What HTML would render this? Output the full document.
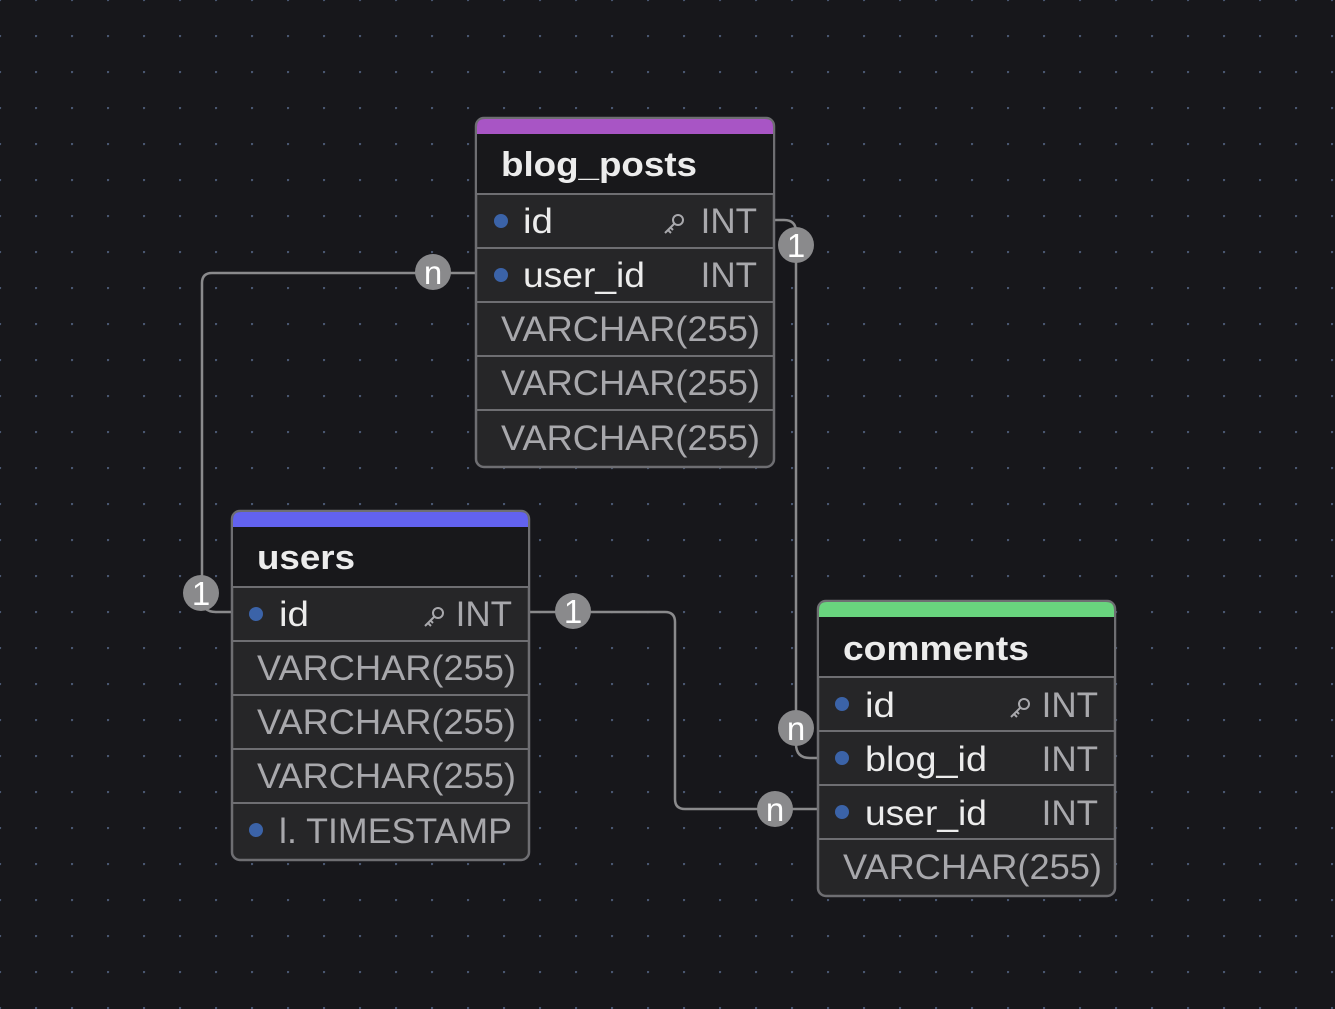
<!DOCTYPE html>
<html><head><meta charset="utf-8"><style>
html,body{margin:0;padding:0;background:#17171b;}
svg{display:block}
text{font-family:"Liberation Sans",sans-serif;}
</style></head><body>
<svg width="1335" height="1009" viewBox="0 0 1335 1009" xmlns="http://www.w3.org/2000/svg">
<defs>
<pattern id="dots" width="36" height="36" patternUnits="userSpaceOnUse" x="-1" y="-1">
<circle cx="1" cy="1" r="1.2" fill="#4a5873"/>
</pattern>
<g id="key" fill="none" stroke="#a8a8ac" stroke-width="2">
<circle cx="14" cy="-14" r="5"/>
<path d="M10.5 -10.5 L1 -1 M4 -4 L7 -1 M6.5 -6.5 L9 -4"/>
</g>
</defs>
<rect width="1335" height="1009" fill="#17171b"/>
<rect width="1335" height="1009" fill="url(#dots)"/>

<g fill="none" stroke="#8a8a8c" stroke-width="2.5">
<path d="M476 273 H212 Q202 273 202 283 V598 Q202 612 216 612 H232"/>
<path d="M774 220 H784 Q796 220 796 232 V744 Q796 758 810 758 H818"/>
<path d="M529 612 H665 Q675 612 675 622 V799 Q675 809 685 809 H818"/>
</g>

<!-- blog_posts -->
<g>
<rect x="476" y="118" width="298" height="349" rx="8" fill="#262628" stroke="#6e6e72" stroke-width="2.5"/>
<path d="M477 134 V127 Q477 119 485 119 H765 Q773 119 773 127 V134 Z" fill="#a855c5"/>
<rect x="477" y="134" width="296" height="60" fill="#18181b"/>
<text x="501" y="176" font-size="34" font-weight="bold" fill="#ececec" textLength="196" lengthAdjust="spacingAndGlyphs">blog_posts</text>
<g stroke="#6e6e72" stroke-width="2"><line x1="476" y1="194" x2="774" y2="194"/><line x1="476" y1="248" x2="774" y2="248"/><line x1="476" y1="302" x2="774" y2="302"/><line x1="476" y1="356" x2="774" y2="356"/><line x1="476" y1="410" x2="774" y2="410"/></g>
<circle cx="501" cy="221" r="7" fill="#3b63a8"/><circle cx="501" cy="275" r="7" fill="#3b63a8"/>
<text x="523" y="233" font-size="35" fill="#ececec" textLength="30" lengthAdjust="spacingAndGlyphs">id</text>
<text x="523" y="287" font-size="35" fill="#ececec" textLength="122" lengthAdjust="spacingAndGlyphs">user_id</text>
<text x="757" y="233" font-size="35" fill="#a8a8ac" text-anchor="end">INT</text>
<text x="757" y="287" font-size="35" fill="#a8a8ac" text-anchor="end">INT</text>
<use href="#key" x="664" y="234"/>
<text x="501" y="341" font-size="35" fill="#a8a8ac" textLength="259" lengthAdjust="spacingAndGlyphs">VARCHAR(255)</text>
<text x="501" y="395" font-size="35" fill="#a8a8ac" textLength="259" lengthAdjust="spacingAndGlyphs">VARCHAR(255)</text>
<text x="501" y="450" font-size="35" fill="#a8a8ac" textLength="259" lengthAdjust="spacingAndGlyphs">VARCHAR(255)</text>
</g>

<!-- users -->
<g>
<rect x="232" y="511" width="297" height="349" rx="8" fill="#262628" stroke="#6e6e72" stroke-width="2.5"/>
<path d="M233 527 V520 Q233 512 241 512 H520 Q528 512 528 520 V527 Z" fill="#6262ef"/>
<rect x="233" y="527" width="295" height="60" fill="#18181b"/>
<text x="257" y="569" font-size="34" font-weight="bold" fill="#ececec" textLength="98" lengthAdjust="spacingAndGlyphs">users</text>
<g stroke="#6e6e72" stroke-width="2"><line x1="232" y1="587" x2="529" y2="587"/><line x1="232" y1="641" x2="529" y2="641"/><line x1="232" y1="695" x2="529" y2="695"/><line x1="232" y1="749" x2="529" y2="749"/><line x1="232" y1="803" x2="529" y2="803"/></g>
<circle cx="256" cy="614" r="7" fill="#3b63a8"/><circle cx="256" cy="830" r="7" fill="#3b63a8"/>
<text x="279" y="626" font-size="35" fill="#ececec" textLength="30" lengthAdjust="spacingAndGlyphs">id</text>
<text x="512" y="626" font-size="35" fill="#a8a8ac" text-anchor="end">INT</text>
<use href="#key" x="424" y="627"/>
<text x="257" y="680" font-size="35" fill="#a8a8ac" textLength="259" lengthAdjust="spacingAndGlyphs">VARCHAR(255)</text>
<text x="257" y="734" font-size="35" fill="#a8a8ac" textLength="259" lengthAdjust="spacingAndGlyphs">VARCHAR(255)</text>
<text x="257" y="788" font-size="35" fill="#a8a8ac" textLength="259" lengthAdjust="spacingAndGlyphs">VARCHAR(255)</text>
<text x="279" y="843" font-size="35" fill="#a8a8ac" textLength="233" lengthAdjust="spacingAndGlyphs">l. TIMESTAMP</text>
</g>

<!-- comments -->
<g>
<rect x="818" y="601" width="297" height="295" rx="8" fill="#262628" stroke="#6e6e72" stroke-width="2.5"/>
<path d="M819 617 V610 Q819 602 827 602 H1106 Q1114 602 1114 610 V617 Z" fill="#69d47e"/>
<rect x="819" y="617" width="295" height="60" fill="#18181b"/>
<text x="843" y="660" font-size="34" font-weight="bold" fill="#ececec" textLength="186" lengthAdjust="spacingAndGlyphs">comments</text>
<g stroke="#6e6e72" stroke-width="2"><line x1="818" y1="677" x2="1115" y2="677"/><line x1="818" y1="731" x2="1115" y2="731"/><line x1="818" y1="785" x2="1115" y2="785"/><line x1="818" y1="839" x2="1115" y2="839"/></g>
<circle cx="842" cy="704" r="7" fill="#3b63a8"/><circle cx="842" cy="758" r="7" fill="#3b63a8"/><circle cx="842" cy="812" r="7" fill="#3b63a8"/>
<text x="865" y="717" font-size="35" fill="#ececec" textLength="30" lengthAdjust="spacingAndGlyphs">id</text>
<text x="865" y="771" font-size="35" fill="#ececec" textLength="122" lengthAdjust="spacingAndGlyphs">blog_id</text>
<text x="865" y="825" font-size="35" fill="#ececec" textLength="122" lengthAdjust="spacingAndGlyphs">user_id</text>
<text x="1098" y="717" font-size="35" fill="#a8a8ac" text-anchor="end">INT</text>
<text x="1098" y="771" font-size="35" fill="#a8a8ac" text-anchor="end">INT</text>
<text x="1098" y="825" font-size="35" fill="#a8a8ac" text-anchor="end">INT</text>
<use href="#key" x="1010" y="718"/>
<text x="843" y="879" font-size="35" fill="#a8a8ac" textLength="259" lengthAdjust="spacingAndGlyphs">VARCHAR(255)</text>
</g>

<g font-size="33" fill="#ffffff" text-anchor="middle">
<circle cx="433" cy="272" r="18" fill="#8a8a8c"/><text x="433" y="284">n</text>
<circle cx="201" cy="593" r="18" fill="#8a8a8c"/><text x="201" y="605">1</text>
<circle cx="796" cy="245" r="18" fill="#8a8a8c"/><text x="796" y="257">1</text>
<circle cx="796" cy="728" r="18" fill="#8a8a8c"/><text x="796" y="740">n</text>
<circle cx="573" cy="611" r="18" fill="#8a8a8c"/><text x="573" y="623">1</text>
<circle cx="775" cy="809" r="18" fill="#8a8a8c"/><text x="775" y="821">n</text>
</g>
</svg>
</body></html>
